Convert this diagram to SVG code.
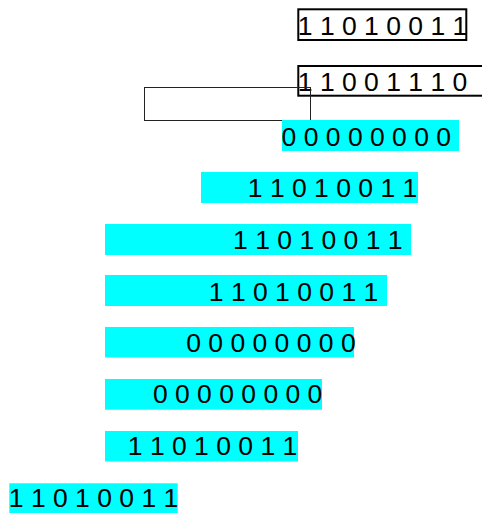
<svg xmlns="http://www.w3.org/2000/svg" width="482" height="513" viewBox="0 0 482 513">
<style>
.t{font-family:"Liberation Sans",Arial,sans-serif;font-size:26.5px;fill:#000}
.c{fill:#00ffff}
.b{fill:none;stroke:#000;stroke-width:2}
</style>
<rect width="482" height="513" fill="#fff"/>
<g id="box1"><rect class="b" x="298.3" y="9.3" width="168" height="30.7"/><text class="t" x="297.8" y="35">1 1 0 1 0 0 1 1</text></g>
<g id="box2"><rect class="b" x="298.3" y="66" width="200" height="29.7"/><text class="t" x="297.8" y="91">1 1 0 0 1 1 1 0</text></g>
<g id="frame"><rect x="144.5" y="87.5" width="166" height="33" fill="none" stroke="#222" stroke-width="1"/></g>
<g id="row1"><rect class="c" x="282" y="120" width="177" height="31"/><text class="t" x="281.6" y="146">0 0 0 0 0 0 0 0</text></g>
<g id="row2"><rect class="c" x="201" y="172" width="217" height="31"/><text class="t" x="247.8" y="197">1 1 0 1 0 0 1 1</text></g>
<g id="row3"><rect class="c" x="105" y="224" width="306" height="31"/><text class="t" x="233.1" y="248.5">1 1 0 1 0 0 1 1</text></g>
<g id="row4"><rect class="c" x="105" y="275" width="282" height="31"/><text class="t" x="208.8" y="300.5">1 1 0 1 0 0 1 1</text></g>
<g id="row5"><rect class="c" x="105" y="327" width="249" height="30.5"/><text class="t" x="186.2" y="351.5">0 0 0 0 0 0 0 0</text></g>
<g id="row6"><rect class="c" x="105" y="379" width="217" height="30.7"/><text class="t" x="152.9" y="403">0 0 0 0 0 0 0 0</text></g>
<g id="row7"><rect class="c" x="105" y="431" width="193" height="30.5"/><text class="t" x="127.8" y="455">1 1 0 1 0 0 1 1</text></g>
<g id="row8"><rect class="c" x="9.3" y="483.3" width="168.4" height="29.7"/><text class="t" x="8.8" y="507">1 1 0 1 0 0 1 1</text></g>
</svg>
